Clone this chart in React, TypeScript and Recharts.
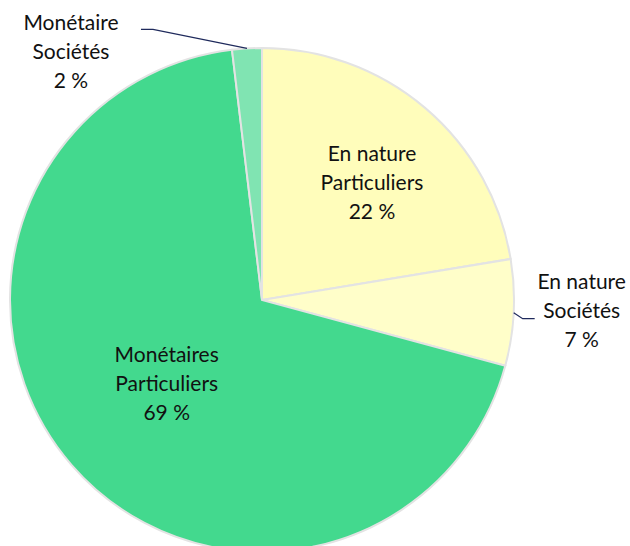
import React from "react";
import { PieChart, Pie, Cell } from "recharts";

const categories = ["En nature Particuliers", "En nature Sociétés", "Monétaires Particuliers", "Monétaire Sociétés"];
const labelLine1 = ["En nature", "En nature", "Monétaires", "Monétaire"];
const labelLine2 = ["Particuliers", "Sociétés", "Particuliers", "Sociétés"];
const values = [22.4, 6.8, 68.9, 1.9];

const COLORS = ["#FFFDBB", "#FFFEC9", "#43D98E", "#80E4B2"];
const FONT = "Lato, 'Noto Sans', sans-serif";
const LINE_H = 29;

const data = categories.map((name, i) => ({ name, value: values[i] }));

const RAD = Math.PI / 180;

const renderLabel = (props: any) => {
  const { cx, cy, outerRadius, midAngle, index, percent } = props;
  const cos = Math.cos(-midAngle * RAD);
  const sin = Math.sin(-midAngle * RAD);
  const pct = `${Math.round(percent * 100)} %`;
  const lines = [labelLine1[index], labelLine2[index], pct];
  let tx = 0;
  let ty = 0;
  let leader: string | null = null;
  if (index === 0) {
    const r = outerRadius * 0.65;
    tx = cx + r * cos + 4;
    ty = cy + r * sin + 6;
  } else if (index === 2) {
    const r = outerRadius * 0.5;
    tx = cx + r * cos;
    ty = cy + r * sin;
  } else if (index === 1) {
    const ex = cx + outerRadius * cos;
    const ey = cy + outerRadius * sin;
    const mx = ex + 9;
    const my = ey + 6;
    leader = `M${ex},${ey} L${mx},${my} L${mx + 12},${my}`;
    tx = mx + 12 + 47;
    ty = my - 10;
  } else {
    const ex = cx + outerRadius * cos;
    const ey = cy + outerRadius * sin;
    const mx = ex - 94;
    const my = ey - 19;
    leader = `M${ex},${ey} L${mx},${my} L${mx - 12},${my}`;
    tx = mx - 12 - 70;
    ty = my + 21;
  }
  return (
    <g>
      {leader && <path d={leader} stroke="#1F2A5C" strokeWidth={1.2} fill="none" />}
      <text
        x={tx}
        y={ty - LINE_H}
        textAnchor="middle"
        dominantBaseline="central"
        fontFamily={FONT}
        fontSize={21}
        fill="#111"
      >
        {lines.map((l, i) => (
          <tspan key={i} x={tx} dy={i === 0 ? 0 : LINE_H}>
            {l}
          </tspan>
        ))}
      </text>
    </g>
  );
};

export default function App() {
  return (
    <div style={{ position: "absolute", left: 0, top: 0 }}>
      <PieChart width={630} height={546} margin={{ top: 0, right: 0, bottom: 0, left: 0 }}>
        <Pie
          data={data}
          dataKey="value"
          nameKey="name"
          cx={262}
          cy={300}
          outerRadius={252}
          startAngle={90}
          endAngle={-270}
          stroke="#E3E3E3"
          strokeWidth={2}
          label={renderLabel}
          labelLine={false}
          isAnimationActive={false}
        >
          {data.map((d, i) => (
            <Cell key={d.name} fill={COLORS[i]} />
          ))}
        </Pie>
      </PieChart>
    </div>
  );
}
